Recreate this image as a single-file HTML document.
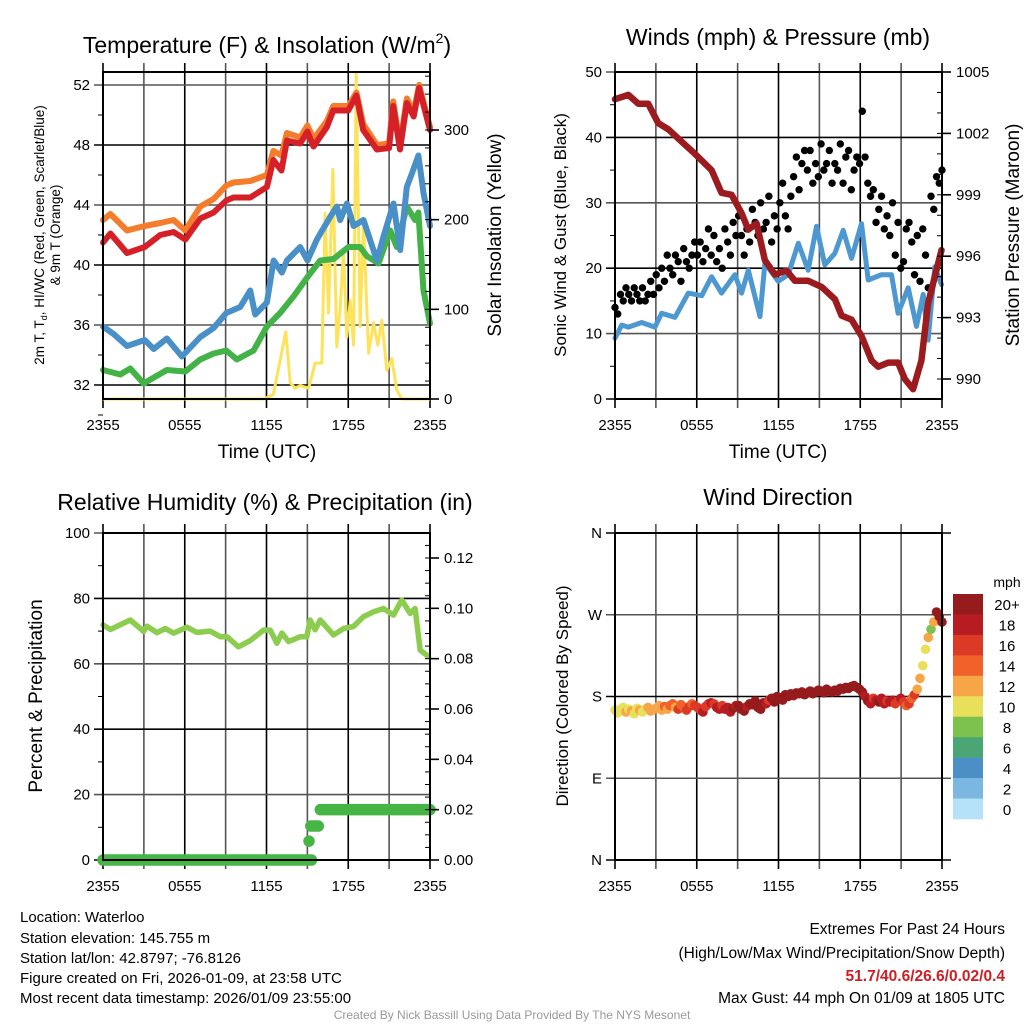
<!DOCTYPE html>
<html><head><meta charset="utf-8"><style>
html,body{margin:0;padding:0;background:#fff;}
svg{display:block;font-family:"Liberation Sans",sans-serif;}
</style></head><body>
<svg id="chart" width="1024" height="1024" viewBox="0 0 1024 1024" xmlns="http://www.w3.org/2000/svg">
<rect x="0" y="0" width="1024" height="1024" fill="#fff"/>
<text x="267" y="53" font-size="23" text-anchor="middle">Temperature (F) &amp; Insolation (W/m<tspan font-size="14" dy="-10">2</tspan><tspan dy="10">)</tspan></text>
<text x="778" y="45" font-size="23" text-anchor="middle">Winds (mph) &amp; Pressure (mb)</text>
<text x="265" y="510" font-size="23" text-anchor="middle">Relative Humidity (%) &amp; Precipitation (in)</text>
<text x="778" y="505" font-size="23" text-anchor="middle">Wind Direction</text>
<text x="267" y="458" font-size="19" text-anchor="middle">Time (UTC)</text>
<text x="778" y="458" font-size="19" text-anchor="middle">Time (UTC)</text>
<text transform="translate(44,235) rotate(-90)" font-size="13.5" text-anchor="middle">2m T, T<tspan font-size="9" dy="3">d</tspan><tspan dy="-3">, HI/WC (Red, Green, Scarlet/Blue)</tspan></text>
<text transform="translate(60,235) rotate(-90)" font-size="13.5" text-anchor="middle">&amp; 9m T (Orange)</text>
<text transform="translate(501,235) rotate(-90)" font-size="19" text-anchor="middle">Solar Insolation (Yellow)</text>
<text transform="translate(566,235) rotate(-90)" font-size="17" text-anchor="middle">Sonic Wind &amp; Gust (Blue, Black)</text>
<text transform="translate(1019,235) rotate(-90)" font-size="19" text-anchor="middle">Station Pressure (Maroon)</text>
<text transform="translate(42,696) rotate(-90)" font-size="19" text-anchor="middle">Percent &amp; Precipitation</text>
<text transform="translate(568,696) rotate(-90)" font-size="17" text-anchor="middle">Direction (Colored By Speed)</text>
<g font-size="15">
<text x="20" y="922">Location: Waterloo</text>
<text x="20" y="943">Station elevation: 145.755 m</text>
<text x="20" y="963">Station lat/lon: 42.8797; -76.8126</text>
<text x="20" y="983">Figure created on Fri, 2026-01-09, at 23:58 UTC</text>
<text x="20" y="1003">Most recent data timestamp: 2026/01/09 23:55:00</text>
</g>
<g font-size="15.5" text-anchor="end">
<text x="1005" y="934">Extremes For Past 24 Hours</text>
<text x="1005" y="958">(High/Low/Max Wind/Precipitation/Snow Depth)</text>
<text x="1005" y="981" fill="#cc1f24" font-weight="bold">51.7/40.6/26.6/0.02/0.4</text>
<text x="1005" y="1003">Max Gust: 44 mph On 01/09 at 1805 UTC</text>
</g>
<text x="512" y="1019" font-size="12" fill="#999" text-anchor="middle">Created By Nick Bassill Using Data Provided By The NYS Mesonet</text>
</svg>
<script>
// ---------- Panel 1 data ----------
const tempTime = [0,0.54,1.76,3.06,4.2,5.18,6.04,7.14,8.12,9.05,9.58,10.8,12.03,12.5,13.1,13.5,14.47,15.0,15.45,16.43,16.9,18.0,18.6,19.1,20.1,21.0,21.3,21.8,22.3,22.8,23.2,24];
const temp2m = [41.5,42.1,40.8,41.2,42.0,42.2,41.7,43.1,43.5,44.3,44.5,44.5,45.2,47.0,46.3,48.3,48.1,48.9,47.9,49.2,50.3,50.3,51.3,49.0,47.7,47.8,50.6,47.7,50.8,49.9,51.8,49.0];
const temp9m = [43.0,43.4,42.3,42.6,42.8,43.0,42.3,43.9,44.4,45.3,45.5,45.6,46.0,47.6,47.3,48.8,48.5,49.3,48.4,49.6,50.6,50.6,51.5,49.4,48.0,48.1,50.9,48.0,51.1,50.2,52.0,49.2];
const wcTime = [0,0.78,1.76,3.06,3.72,4.69,5.79,7.14,8.12,9.05,10.07,10.8,11.17,12.03,12.52,13.13,13.5,14.47,15.01,15.7,16.67,17.16,17.41,17.9,18.39,19.12,20.1,20.59,21.32,21.81,22.3,22.67,23.15,23.52,24];
const windChill = [35.9,35.4,34.6,35.0,34.4,35.1,33.9,35.2,35.8,36.8,37.2,38.3,36.7,37.5,40.3,39.5,40.3,41.2,40.3,41.7,43.2,43.9,43.0,44.1,42.6,43.0,40.3,41.9,44.1,41.0,45.2,46.1,47.3,44.8,42.6];
const dewTime = [0,1.27,2.0,2.98,4.69,6.04,7.14,8.12,9.05,9.83,11.05,12.03,13.0,13.98,15.01,15.94,16.92,18.02,18.87,19.36,20.22,21.08,21.56,22.3,22.9,23.15,23.52,24];
const dewPoint = [33.0,32.7,33.1,32.1,33.0,32.9,33.7,34.1,34.3,33.7,34.3,35.9,36.8,37.9,39.2,40.3,40.4,41.2,41.2,40.6,40.1,42.3,41.2,43.9,43.0,43.5,38.3,36.1];
const insTime = [0,11.8,12.5,13.0,13.42,13.74,14.1,14.47,15.09,15.57,16.06,16.3,16.55,16.87,17.16,17.4,17.65,17.9,18.14,18.39,18.58,18.87,19.12,19.49,19.85,20.17,20.46,20.83,21.2,21.56,21.93,24];
const insolation = [0,0,5,43,75,18,12,15,12,40,40,207,96,256,58,100,163,69,110,60,364,81,197,51,85,60,88,32,45,10,0,0];
const tempTicks = [32,36,40,44,48,52];
const insTicks = [0,100,200,300];
const timeTickLabels = ["2355","0555","1155","1755","2355"];
// ---------- Panel 2 data ----------
const presTime = [0,0.98,1.71,2.44,3.18,3.91,4.89,5.87,7.09,7.82,8.56,9.29,9.78,10.39,11.0,11.74,12.59,13.2,14.18,15.16,16.14,16.63,17.36,18.09,18.83,19.32,20.05,20.78,21.27,21.88,22.49,22.98,23.96];
const pressure = [1003.67,1003.88,1003.45,1003.45,1002.5,1002.2,1001.6,1001.0,1000.2,999.1,999.0,998.1,997.3,997.6,995.8,995.1,995.3,994.8,994.8,994.5,993.9,993.1,992.9,992.1,990.9,990.6,990.8,990.8,990.0,989.5,990.9,993.7,996.3];
const windTime = [0,0.49,0.98,1.96,2.93,3.42,4.4,5.38,6.36,7.09,7.82,8.8,9.29,9.78,10.64,11.0,11.98,12.71,13.45,14.18,14.79,15.4,16.14,16.75,17.36,18.09,18.58,19.56,20.29,20.78,21.52,22.13,22.62,22.98,23.47,23.96];
const windSpeed = [9.3,11.3,11.0,11.7,11.0,13.1,12.5,16.2,15.8,18.7,16.2,19.0,16.2,19.7,12.6,20.8,18.0,19.0,23.8,19.7,26.4,20.5,22.3,25.8,21.5,26.8,18.2,19.0,19.0,13.1,17.0,11.1,16.0,9.0,20.2,17.5];
const gusts = [14,13,16,15,17, 16,15,17,16,15, 17,15,16,18,16, 19,17,20,18,22, 20,19,22,21,18, 23,21,20,22,24,
 22,24,21,23,26, 22,25,21,23,20, 26,24,22,27,25, 28,25,22,26,24, 29,27,25,30,26, 27,31,24,28,26,
 30,33,28,26,31, 34,37,32,36,38, 35,38,33,36,34, 39,35,36,38,33, 36,35,39,33,37, 38,32,35,37,36,
 44,37,33,31,32, 27,29,31,26,28, 25,30,22,27,20, 21,26,27,24,19, 25,18,26,22,17, 31,29,34,33,35];
const windTicks = [0,10,20,30,40,50];
const presTicks = [990,993,996,999,1002,1005];
// ---------- Panel 3 data ----------
const rhTime = [0,0.54,2.0,2.98,3.23,3.96,4.57,5.18,6.16,6.89,7.87,8.6,9.09,9.94,10.8,11.78,12.27,12.76,13.13,13.62,14.47,14.96,15.2,15.57,15.94,16.92,17.65,18.38,19.12,19.85,20.58,21.32,21.93,22.54,22.91,23.28,23.89];
const rh = [71.9,70.5,73.4,69.9,71.5,69.5,70.8,69.4,71.2,69.6,70.0,68.3,68.3,65.2,67.1,70.3,70.3,66.3,69.4,66.8,68.3,68.3,73.4,70.4,73.4,68.8,70.8,71.4,74.4,75.9,76.9,74.9,79.5,75.4,76.9,64.2,62.2];
const precipStart = [0,15.12,15.25,15.95];
const precipEnd = [15.3,15.12,15.8,24];
const precipVal = [0,0.0075,0.0135,0.02];
const rhTicks = [0,20,40,60,80,100];
const precipTicks = [0,0.02,0.04,0.06,0.08,0.10,0.12];
const precipTickLabels = ["0.00","0.02","0.04","0.06","0.08","0.10","0.12"];
// ---------- Panel 4 data ----------
const dirDeg = [165,162,166,168,163, 166,164,161,167,165, 163,166,168,164,166, 167,170,165,169,166, 170,172,168,166,171, 168,165,169,172,170,
 168,165,163,169,172, 173,172,168,166,170, 166,168,163,167,170, 170,166,164,169,172, 171,175,168,166,173, 172,176,178,174,180,
 178,176,182,180,183, 181,184,183,185,182, 184,186,183,185,187, 186,184,188,186,185, 187,186,189,188,190, 189,191,192,190,188,
 185,180,175,172,178, 176,174,178,172,175, 174,176,172,175,178, 174,170,172,178,182, 188,200,214,232,245, 254,262,273,268,262];
const dirSpeed = [10,11,10,11,12, 11,12,10,11,12, 11,10,12,13,12, 13,12,13,14,13, 14,15,13,16,15, 14,16,17,15,16,
 16,17,18,16,17, 18,17,19,18,17, 18,19,18,20,19, 21,20,22,19,21, 20,22,23,21,24, 18,16,20,22,23,
 22,24,21,23,25, 24,22,25,23,21, 22,25,24,26,23, 25,23,27,24,22, 24,26,23,25,27, 23,25,22,24,26,
 20,19,21,18,17, 19,20,18,19,17, 18,19,17,16,18, 16,15,17,14,16, 13,12,11,10,12, 9,13,21,22,24];
const dirTicks = [0,90,180,270,360];
const dirTickLabels = ["N","E","S","W","N"];
const speedBinLabels = ["0","2","4","6","8","10","12","14","16","18","20+"];
const speedColors = ["#b5e2f8","#7cb7e2","#4a8fc6","#4aa672","#7dc24e","#e8df5a","#f6a646","#f0622a","#dc3a26","#b71c22","#951b1c"];

const NS = "http://www.w3.org/2000/svg";
const svg = document.getElementById("chart");
function mk(tag, attrs, parent) {
  const el = document.createElementNS(NS, tag);
  for (const k in attrs) el.setAttribute(k, attrs[k]);
  (parent || svg).appendChild(el);
  return el;
}
function lin(d0, d1, r0, r1) { return v => r0 + (v - d0) * (r1 - r0) / (d1 - d0); }

const P = {
  t: {x0:103, x1:430, y0:72, y1:399},
  w: {x0:615, x1:942, y0:72, y1:399},
  h: {x0:103, x1:430, y0:533, y1:860},
  d: {x0:615, x1:942, y0:533, y1:860}
};
const gridColor = "#555";

function frame(p, name) {
  const g = mk("g", {});
  
  
  const xs = lin(0, 24, p.x0, p.x1);
  for (let h = 0; h <= 24; h += 3) {
    const l = mk("line", {x1: xs(h), x2: xs(h), y1: p.y0 - 9, y2: p.y1 + 9, stroke: (h % 6 === 0) ? "#000" : gridColor, "stroke-width": 1.6}, g);
    
    
  }
  return {g, xs};
}
function xLabels(p, xs, name) {
  for (let i = 0; i < timeTickLabels.length; i++) {
    const t = mk("text", {x: xs(i * 6), y: p.y1 + 31, "font-size": 15, "text-anchor": "middle"});
    t.textContent = timeTickLabels[i];
    
    
  }
}
function border(p, name) {
  const r = mk("rect", {x: p.x0, y: p.y0, width: p.x1 - p.x0, height: p.y1 - p.y0, fill: "none", stroke: "#000", "stroke-width": 2});
  
  
}
function hGrid(p, g, ys, ticks, labels, side, name) {
  for (let i = 0; i < ticks.length; i++) {
    const y = ys(ticks[i]);
    const l = mk("line", {x1: p.x0 - 9, x2: p.x1 + (side ? 9 : 0), y1: y, y2: y, stroke: (i % 2 ? gridColor : "#000"), "stroke-width": 1.6}, g);
    
    
    const t = mk("text", {x: p.x0 - 13, y: y + 5, "font-size": 15, "text-anchor": "end"});
    t.textContent = labels ? labels[i] : ticks[i];
    
    
  }
}
function rightAxis(p, ys, ticks, labels, minorStep, lo, hi, name) {
  for (let v = lo; v <= hi + 1e-9; v += minorStep) {
    const y = ys(v);
    if (y < p.y0 - 0.5 || y > p.y1 + 0.5) continue;
    const l = mk("line", {x1: p.x1 - 5, x2: p.x1, y1: y, y2: y, stroke: "#000", "stroke-width": 1});
    
    
  }
  for (let i = 0; i < ticks.length; i++) {
    const y = ys(ticks[i]);
    const l = mk("line", {x1: p.x1, x2: p.x1 + 9, y1: y, y2: y, stroke: "#000", "stroke-width": 1.6});
    
    
    const t = mk("text", {x: p.x1 + 14, y: y + 5, "font-size": 15});
    t.textContent = labels ? labels[i] : ticks[i];
    
    
  }
}
function pathD(ts, vs, xs, ys) {
  return ts.map((t, i) => (i ? "L" : "M") + xs(t).toFixed(1) + "," + ys(vs[i]).toFixed(1)).join("");
}

// ===== Panel 1 =====
{
  const p = P.t;
  const {g, xs} = frame(p, "temperature");
  const ys = lin(52, 32, 85, 385);
  const yi = lin(0, 300, 399, 130);
  hGrid(p, g, ys, tempTicks, null, false, "temperature");
  const ins = mk("path", {d: pathD(insTime, insolation, xs, yi), fill: "none", stroke: "#fde35a", "stroke-width": 3, "stroke-linejoin": "round"});
  
  
  const dp = mk("path", {d: pathD(dewTime, dewPoint, xs, ys), fill: "none", stroke: "#43b347", "stroke-width": 6, "stroke-linejoin": "round", "stroke-linecap": "round"});
  
  
  const wc = mk("path", {d: pathD(wcTime, windChill, xs, ys), fill: "none", stroke: "#4a90c8", "stroke-width": 6, "stroke-linejoin": "round", "stroke-linecap": "round"});
  
  
  const t9 = mk("path", {d: pathD(tempTime, temp9m, xs, ys), fill: "none", stroke: "#f47c2a", "stroke-width": 6, "stroke-linejoin": "round", "stroke-linecap": "round"});
  
  
  const t2 = mk("path", {d: pathD(tempTime, temp2m, xs, ys), fill: "none", stroke: "#d62027", "stroke-width": 6, "stroke-linejoin": "round", "stroke-linecap": "round"});
  
  
  for (let v = 30; v <= 52; v += 2) {
    if (v % 4 === 0) continue;
    const l = mk("line", {x1: p.x0 - 5, x2: p.x0, y1: ys(v), y2: ys(v), stroke: "#000", "stroke-width": 1});
    
    
  }
  rightAxis(p, yi, insTicks, null, 20, 0, 360, "insolation");
  border(p, "temperature");
  xLabels(p, xs, "temperature");
}
// ===== Panel 2 =====
{
  const p = P.w;
  const {g, xs} = frame(p, "winds");
  const ys = lin(0, 50, 399, 72);
  const yp = lin(990, 1005, 379, 72);
  hGrid(p, g, ys, windTicks, null, false, "winds");
  const ws = mk("path", {d: pathD(windTime, windSpeed, xs, ys), fill: "none", stroke: "#4e98d2", "stroke-width": 5, "stroke-linejoin": "round", "stroke-linecap": "round"});
  
  
  for (let i = 0; i < gusts.length; i++) {
    const c = mk("circle", {cx: xs(i * 24 / (gusts.length - 1)), cy: ys(gusts[i]), r: 3.7, fill: "#000"});
    
    
  }
  const pr = mk("path", {d: pathD(presTime, pressure, xs, yp), fill: "none", stroke: "#9b1b1e", "stroke-width": 6.5, "stroke-linejoin": "round", "stroke-linecap": "round"});
  
  
  for (let v = 5; v < 50; v += 10) {
    const l = mk("line", {x1: p.x0 - 5, x2: p.x0, y1: ys(v), y2: ys(v), stroke: "#000", "stroke-width": 1});
    
    
  }
  rightAxis(p, yp, presTicks, null, 1, 989, 1005, "pressure");
  border(p, "winds");
  xLabels(p, xs, "winds");
}
// ===== Panel 3 =====
{
  const p = P.h;
  const {g, xs} = frame(p, "humidity");
  const ys = lin(0, 100, 860, 533);
  const yq = lin(0, 0.12, 860, 558);
  hGrid(p, g, ys, rhTicks, null, false, "humidity");
  const rl = mk("path", {d: pathD(rhTime, rh, xs, ys), fill: "none", stroke: "#8ccc4e", "stroke-width": 5.5, "stroke-linejoin": "round", "stroke-linecap": "round"});
  
  
  for (let i = 0; i < precipVal.length; i++) {
    const l = mk("line", {x1: xs(precipStart[i]), x2: xs(precipEnd[i]), y1: yq(precipVal[i]), y2: yq(precipVal[i]), stroke: "#47b546", "stroke-width": 11.5, "stroke-linecap": "round"});
    
    
  }
  for (let v = 10; v < 100; v += 20) {
    const l = mk("line", {x1: p.x0 - 5, x2: p.x0, y1: ys(v), y2: ys(v), stroke: "#000", "stroke-width": 1});
    
    
  }
  rightAxis(p, yq, precipTicks, precipTickLabels, 0.005, 0, 0.13, "precipitation");
  border(p, "humidity");
  xLabels(p, xs, "humidity");
}
// ===== Panel 4 =====
{
  const p = P.d;
  const {g, xs} = frame(p, "direction");
  const ys = lin(0, 360, 860, 533);
  hGrid(p, g, ys, dirTicks, dirTickLabels, true, "direction");
  for (let i = 0; i < dirDeg.length; i++) {
    const bin = Math.min(10, Math.floor(dirSpeed[i] / 2));
    const c = mk("circle", {cx: xs(i * 24 / (dirDeg.length - 1)), cy: ys(dirDeg[i]), r: 4.8, fill: speedColors[bin]});
    
    
  }
  border(p, "direction");
  xLabels(p, xs, "direction");
  const t = mk("text", {x: 1007, y: 587, "font-size": 14, "text-anchor": "middle"});
  t.textContent = "mph";
  
  
  const bh = (819 - 594) / speedColors.length;
  for (let i = 0; i < speedColors.length; i++) {
    const k = speedColors.length - 1 - i;
    const r = mk("rect", {x: 953, y: 594 + i * bh, width: 30, height: bh + 0.3, fill: speedColors[k]});
    
    
    const lb = mk("text", {x: 1007, y: 594 + i * bh + bh / 2 + 6, "font-size": 15, "text-anchor": "middle"});
    lb.textContent = speedBinLabels[k];
    
    
  }
}
</script>
</body></html>
